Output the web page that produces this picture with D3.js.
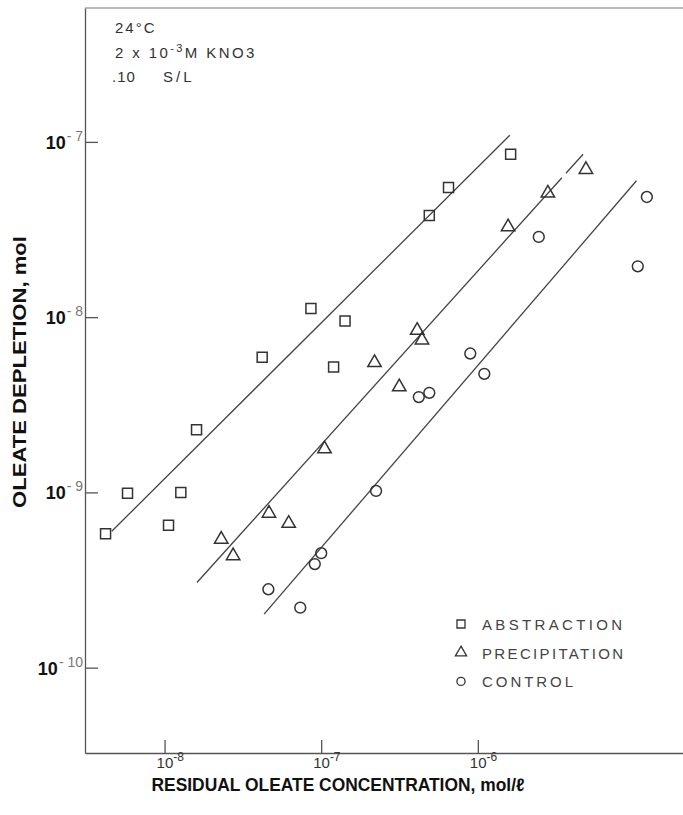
<!DOCTYPE html>
<html>
<head>
<meta charset="utf-8">
<script src="https://cdn.jsdelivr.net/npm/d3@7"></script>
<style>
  body { margin: 0; background: #fff; }
  svg { display: block; }
  text { font-family: "Liberation Sans", Arial, sans-serif; fill: #333; }
</style>
</head>
<body>
<div id="chart"></div>
<script>
// data (log-log)
const xTicks = [1e-8, 1e-7, 1e-6];
const yTicks = [1e-10, 1e-9, 1e-8, 1e-7];

const abstractionX = [4.2e-9, 5.8e-9, 1.06e-8, 1.27e-8, 1.6e-8, 4.2e-8, 8.6e-8, 1.2e-7, 1.42e-7, 4.9e-7, 6.5e-7, 1.62e-6];
const abstractionY = [5.8e-10, 9.9e-10, 6.5e-10, 1.0e-9, 2.28e-9, 5.9e-9, 1.12e-8, 5.2e-9, 9.5e-9, 3.8e-8, 5.5e-8, 8.5e-8];

const precipitationX = [2.3e-8, 2.74e-8, 4.64e-8, 6.2e-8, 1.05e-7, 2.19e-7, 3.15e-7, 4.1e-7, 4.4e-7, 1.56e-6, 2.8e-6, 4.9e-6];
const precipitationY = [5.4e-10, 4.35e-10, 7.6e-10, 6.65e-10, 1.77e-9, 5.5e-9, 4.0e-9, 8.4e-9, 7.4e-9, 3.27e-8, 5.1e-8, 6.95e-8];

const controlX = [4.6e-8, 7.35e-8, 9.1e-8, 1.0e-7, 2.24e-7, 4.2e-7, 4.9e-7, 8.95e-7, 1.1e-6, 2.45e-6, 1.2e-5, 1.05e-5];
const controlY = [2.8e-10, 2.2e-10, 3.9e-10, 4.5e-10, 1.02e-9, 3.5e-9, 3.7e-9, 6.2e-9, 4.75e-9, 2.87e-8, 4.85e-8, 1.95e-8];

// fitted lines (end points)
const abstractionFitX = [4.6e-9, 1.6e-6];
const abstractionFitY = [6.0e-10, 1.09e-7];
const precipitationFitX = [1.61e-8, 4.7e-6];
const precipitationFitY = [3.06e-10, 8.5e-8];
const controlFitX = [4.32e-8, 1.03e-5];
const controlFitY = [2.02e-10, 6.0e-8];

const legendLabels = ["ABSTRACTION", "PRECIPITATION", "CONTROL"];

const width = 683;
const height = 815;
const plot = { left: 85, right: 683, top: 8, bottom: 753 };

const svg = d3.select("#chart").append("svg")
  .attr("width", width)
  .attr("height", height);

const x = d3.scaleLog()
  .domain([Math.pow(10, -8.508), Math.pow(10, -4.69)])
  .range([plot.left, plot.right]);
const y = d3.scaleLog()
  .domain([Math.pow(10, -10.487), Math.pow(10, -6.236)])
  .range([plot.bottom, plot.top]);

const ink = "#333";

// axes (ticks point inward)
const xAxis = d3.axisBottom(x).tickValues(xTicks).tickSize(-13).tickSizeOuter(0).tickFormat("");
const yAxis = d3.axisLeft(y).tickValues(yTicks).tickSize(-13).tickSizeOuter(0).tickFormat("");

svg.append("g")
  .attr("transform", `translate(0,${plot.bottom})`)
  .call(xAxis)
  .call(g => g.selectAll("path, line").attr("stroke", "#555").attr("stroke-width", 1.3));

svg.append("g")
  .attr("transform", `translate(${plot.left},0)`)
  .call(yAxis)
  .call(g => g.selectAll("path, line").attr("stroke", "#555").attr("stroke-width", 1.3));

// top frame line
svg.append("line")
  .attr("x1", plot.left).attr("x2", plot.right)
  .attr("y1", plot.top).attr("y2", plot.top)
  .attr("stroke", "#777").attr("stroke-width", 1.2);

// tick labels with superscripts
const xLab = svg.append("g").selectAll("text")
  .data(xTicks)
  .join("text")
  .attr("x", d => x(d) - 8)
  .attr("y", 768)
  .style("font-size", "15px");
xLab.append("tspan").text("10");
xLab.append("tspan")
  .attr("dy", -7)
  .style("font-size", "12px")
  .text(d => "-" + Math.round(-Math.log10(d)));

const yLab = svg.append("g").selectAll("text")
  .data(yTicks)
  .join("text")
  .attr("x", 83)
  .attr("y", d => y(d) + 7)
  .attr("text-anchor", "end");
yLab.append("tspan")
  .style("font-size", "18px")
  .style("font-weight", "bold")
  .style("fill", "#111")
  .text("10");
yLab.append("tspan")
  .attr("dy", -8)
  .attr("dx", 1)
  .style("font-size", "14px")
  .style("fill", "#777")
  .text(d => "- " + Math.round(-Math.log10(d)));

// axis titles
svg.append("text")
  .attr("x", 338)
  .attr("y", 791)
  .attr("text-anchor", "middle")
  .attr("textLength", 373)
  .attr("lengthAdjust", "spacingAndGlyphs")
  .style("font-size", "18px")
  .style("font-weight", "bold")
  .style("fill", "#111")
  .text("RESIDUAL OLEATE CONCENTRATION, mol/ℓ");

svg.append("text")
  .attr("transform", "translate(26,372) rotate(-90)")
  .attr("text-anchor", "middle")
  .attr("textLength", 272)
  .attr("lengthAdjust", "spacingAndGlyphs")
  .style("font-size", "19px")
  .style("font-weight", "bold")
  .style("fill", "#111")
  .text("OLEATE DEPLETION, mol");

// conditions note
const note = svg.append("g").style("font-size", "15px").style("fill", "#444");
note.append("text").attr("x", 115).attr("y", 33).style("letter-spacing", "2px").text("24°C");
const n2 = note.append("text").attr("x", 115).attr("y", 58);
n2.append("tspan").text("2 x 10");
n2.append("tspan").attr("dy", -6).style("font-size", "11px").text("-3");
n2.append("tspan").attr("dy", 6).text("M KNO3");
n2.style("letter-spacing", "2.4px");
note.append("text").attr("x", 112).attr("y", 82).style("letter-spacing", "1px").text(".10");
note.append("text").attr("x", 163).attr("y", 82).style("letter-spacing", "3px").text("S/L");

// fit lines
const line = d3.line()
  .x(d => x(d[0]))
  .y(d => y(d[1]));

const fits = [
  d3.zip(abstractionFitX, abstractionFitY),
  d3.zip(precipitationFitX, precipitationFitY),
  d3.zip(controlFitX, controlFitY)
];

svg.append("g").selectAll("path")
  .data(fits)
  .join("path")
  .attr("d", line)
  .attr("fill", "none")
  .attr("stroke", "#444")
  .attr("stroke-width", 1.3)
  // small break near the top of the precipitation line, as in the original
  .attr("stroke-dasharray", (d, i) => (i === 1 ? "545 6 100" : null));

// markers
const series = [
  { pts: d3.zip(abstractionX, abstractionY), type: d3.symbolSquare, size: 100 },
  { pts: d3.zip(precipitationX, precipitationY), type: d3.symbolTriangle, size: 78 },
  { pts: d3.zip(controlX, controlY), type: d3.symbolCircle, size: 92 }
];

series.forEach(s => {
  svg.append("g").selectAll("path")
    .data(s.pts)
    .join("path")
    .attr("transform", d => `translate(${x(d[0])},${y(d[1])})`)
    .attr("d", d3.symbol(s.type, s.size))
    .attr("fill", "none")
    .attr("stroke", ink)
    .attr("stroke-width", 1.5);
});

// legend
const legendSizes = [64, 55, 52];
const legend = svg.append("g").attr("transform", "translate(461,624)");
const item = legend.selectAll("g")
  .data(legendLabels)
  .join("g")
  .attr("transform", (d, i) => `translate(0,${i * 28.7})`);
item.append("path")
  .attr("d", (d, i) => d3.symbol(series[i].type, legendSizes[i])())
  .attr("fill", "none")
  .attr("stroke", ink)
  .attr("stroke-width", 1.3);
item.append("text")
  .attr("x", 21)
  .attr("y", 6)
  .style("font-size", "15px")
  .style("fill", "#444")
  .attr("textLength", (d, i) => [140, 141, 91][i])
  .attr("lengthAdjust", "spacing")
  .text(d => d);
</script>
</body>
</html>
